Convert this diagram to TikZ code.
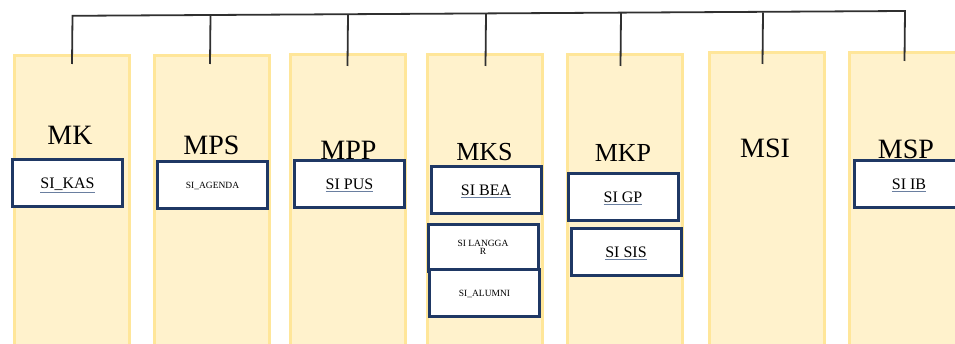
\documentclass[tikz,border=0pt]{standalone}
\usepackage{fontspec}
\setmainfont{Liberation Serif}
\definecolor{colfill}{HTML}{FFF2CC}
\definecolor{coledge}{HTML}{FFE699}
\definecolor{navy}{HTML}{1F3864}
\definecolor{wire}{HTML}{303030}
\definecolor{spell}{HTML}{6A7FA0}
\newcommand{\spl}[1]{{\color{spell}\underline{\color{black}#1}}}
\tikzset{
  colbox/.style={draw=coledge, fill=colfill, line width=2.8pt, anchor=north west, minimum width=115pt, minimum height=320pt, inner sep=0pt},
  collabel/.style={anchor=base, inner sep=0pt, font=\fontsize{28}{30}\selectfont},
  collabelsm/.style={anchor=base, inner sep=0pt, font=\fontsize{26}{28}\selectfont},
  sibox/.style={draw=navy, fill=white, line width=3pt, minimum width=110pt, minimum height=47pt, inner sep=0pt, text height=11pt, text depth=0pt, font=\fontsize{16}{18}\selectfont},
  sismall/.style={sibox, font=\fontsize{9.5}{10}\selectfont, text height=6.5pt},
  wireline/.style={draw=wire, line width=1.8pt}
}
\begin{document}
\begin{tikzpicture}[x=1pt,y=-1pt]
\useasboundingbox (0,0) rectangle (955,344);
\clip (0,0) rectangle (955,344);
% columns
\node[colbox] (c1) at (13,54) {};
\node[colbox] (c2) at (153,54) {};
\node[colbox] (c3) at (289,53) {};
\node[colbox] (c4) at (426,53) {};
\node[colbox] (c5) at (566,53) {};
\node[colbox] (c6) at (708,51) {};
\node[colbox] (c7) at (848,51) {};
% top bar
\coordinate (t1) at (72.5,15.8);
\coordinate (t2) at (210.5,15.2);
\coordinate (t3) at (348,14.5);
\coordinate (t4) at (486,13.8);
\coordinate (t5) at (621,13.2);
\coordinate (t6) at (763,12.5);
\coordinate (t7) at (905,11);
\coordinate (d1) at (72,64);
\coordinate (d2) at (210,64);
\coordinate (d3) at (347.5,66);
\coordinate (d4) at (485.5,66);
\coordinate (d5) at (620.5,66);
\coordinate (d6) at (762.5,64);
\coordinate (d7) at (904.5,61);
\draw[wireline, line join=miter] (d1) -- (t1) -- (t7) -- (d7);
\foreach \i in {2,...,6} \draw[wireline] (t\i) -- (d\i);
% labels
\node[collabel] (l1) at (70,145) {MK};
\node[collabel] (l2) at (211.5,154.5) {MPS};
\node[collabel] (l3) at (348.5,160) {MPP};
\node[collabelsm] (l4) at (484.5,160.5) {MKS};
\node[collabelsm] (l5) at (623,161.5) {MKP};
\node[collabel] (l6) at (765,158) {MSI};
\node[collabel] (l7) at (906,159) {MSP};
% inner boxes
\node[sibox] (kas) at (67.5,183) {\spl{SI\_KAS}};
\node[sismall] (agenda) at (212.5,185) {SI\_AGENDA};
\node[sibox] (pus) at (349.5,184.5) {\spl{SI PUS}};
\node[sibox] (bea) at (486,190) {\spl{SI BEA}};
\node[sismall, align=center, text height=14pt] (langgar) at (483,248) {SI LANGGA\\[-2pt]R};
\node[sismall] (alumni) at (484.5,293) {SI\_ALUMNI};
\node[sibox] (gp) at (623,196.7) {\spl{SI GP}};
\node[sibox] (sis) at (626,251.7) {\spl{SI SIS}};
\node[sibox] (ib) at (909,184) {\spl{SI IB}};
\end{tikzpicture}
\end{document}
